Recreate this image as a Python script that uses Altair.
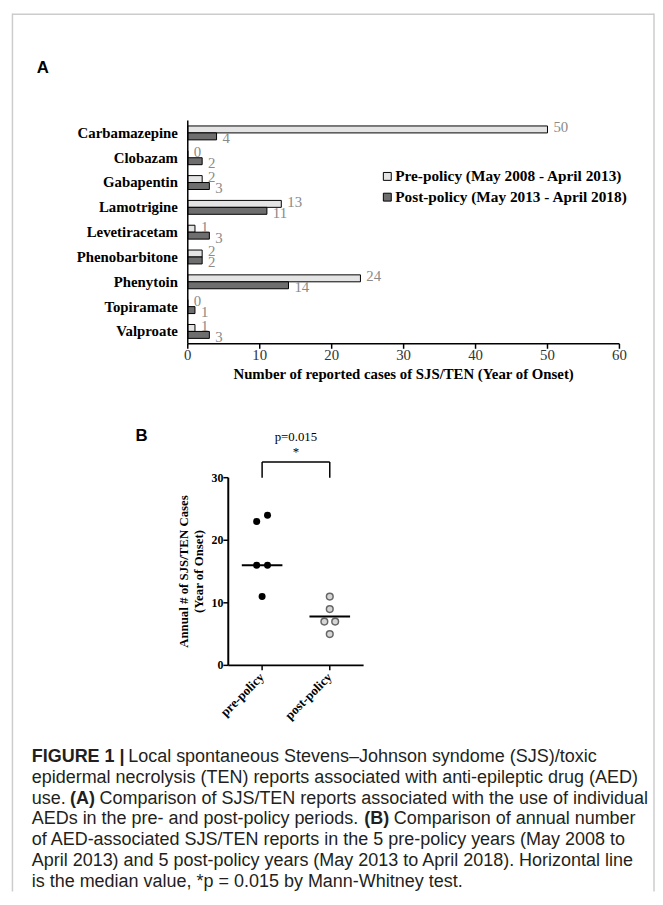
import altair as alt
import pandas as pd

# ---------------- data ----------------
drugs = ["Carbamazepine", "Clobazam", "Gabapentin", "Lamotrigine", "Levetiracetam",
         "Phenobarbitone", "Phenytoin", "Topiramate", "Valproate"]
pre_counts = [50, 0, 2, 13, 1, 2, 24, 0, 1]
post_counts = [4, 2, 3, 11, 3, 2, 14, 1, 3]
series_names = ["Pre-policy (May 2008 - April 2013)", "Post-policy (May 2013 - April 2018)"]
x_ticks_a = [0, 10, 20, 30, 40, 50, 60]
x_title_a = "Number of reported cases of SJS/TEN (Year of Onset)"

groups_b = ["pre-policy", "post-policy"]
annual_pre = [24, 23, 16, 16, 11]
annual_post = [11, 9, 7, 7, 5]
medians_b = [16, 7.8]
y_ticks_b = [0, 10, 20, 30]
y_title_b = ["Annual # of SJS/TEN Cases", "(Year of Onset)"]
bracket_b = [30, 32.5]
p_text = "p=0.015"
star_text = "*"

caption_lines = [
    [("FIGURE 1 |", True), (" Local spontaneous Stevens\u2013Johnson syndome (SJS)/toxic", False)],
    [("epidermal necrolysis (TEN) reports associated with anti-epileptic drug (AED)", False)],
    [("use. ", False), ("(A)", True), (" Comparison of SJS/TEN reports associated with the use of individual", False)],
    [("AEDs in the pre- and post-policy periods. ", False), ("(B)", True), (" Comparison of annual number", False)],
    [("of AED-associated SJS/TEN reports in the 5 pre-policy years (May 2008 to", False)],
    [("April 2013) and 5 post-policy years (May 2013 to April 2018). Horizontal line", False)],
    [("is the median value, *p = 0.015 by Mann-Whitney test.", False)],
]

# ---------------- layout (page pixels; chart = page - 8) ----------------
W, H = 655, 889
OX, OY = 8, 8
def cx(v): return v - OX
def cy(v): return v - OY

SERIF = "Liberation Serif"
SANS = "Liberation Sans"
PRE_FILL, POST_FILL = "#e4e4e4", "#6e6e6e"
FRAME_C = "#cccccc"

A_AXIS_X = 190          # page x of value 0 in panel A
A_X60 = 627             # page x of value 60
A_TOP, A_AXIS_Y = 116.4, 342.5
XA = [cx(A_AXIS_X), cx(A_X60)]
YA = [cy(A_TOP), cy(A_AXIS_Y)]

B_LEFT, B_RIGHT = 231, 368
B_Y0, B_Y30 = 668, 478
XB = [cx(B_LEFT), cx(B_RIGHT)]
YB = [cy(B_Y0), cy(B_Y30)]

CAP_X, CAP_Y0, CAP_DY, CAP_SIZE = cx(32), cy(761), 21.0, 18.2
CAP_FIT = 0.985


def _w(groups):
    d = {}
    for chars, w in groups:
        for c in chars:
            d[c] = w
    return d

REG = _w([(" !,./:;I[]ft", 278), ("ijl", 222), ("r()-", 333), ("*", 389),
          ("crskvxyzJ", 500), ("abdeghnopqu0123456789#$L_\u2013", 556), ("=+", 584),
          ("FTZ", 611), ("ABEKPSVXY", 667), ("CDHNRUw", 722), ("GOQ", 778),
          ("mM", 833), ("W", 944), ("|", 260)])
BOLD = _w([(" I", 278), ("()", 333), ("|", 280), ("ABRUCDHN", 722), ("E", 667),
           ("F", 611), ("GO", 778), ("0123456789", 556)])


def text_width(s, bold, size):
    t = BOLD if bold else REG
    return sum(t.get(c, 556) for c in s) * size / 1000.0 * CAP_FIT


cap_rows = []
for i, line in enumerate(caption_lines):
    xpos = CAP_X
    for seg, bold in line:
        lead = len(seg) - len(seg.lstrip(" "))
        xpos += text_width(" " * lead, bold, CAP_SIZE)
        s = seg.strip(" ")
        cap_rows.append({"t": s, "bold": bold, "px": xpos, "py": CAP_Y0 + i * CAP_DY})
        xpos += text_width(s, bold, CAP_SIZE)
        trail = len(seg) - len(seg.rstrip(" "))
        xpos += text_width(" " * trail, bold, CAP_SIZE)
cap_df = pd.DataFrame(cap_rows)

# ---------------- panel A ----------------
rows_a = []
for d, a, b in zip(drugs, pre_counts, post_counts):
    rows_a.append({"drug": d, "series": series_names[0], "count": a})
    rows_a.append({"drug": d, "series": series_names[1], "count": b})
df_a = pd.DataFrame(rows_a)

sx_a = alt.Scale(domain=[0, 60], range=XA, nice=False, zero=True)
sy_a = alt.Scale(domain=drugs, range=YA, paddingInner=0.44, paddingOuter=0.22)
syo_a = alt.Scale(domain=series_names)
sfill = alt.Scale(domain=series_names, range=[PRE_FILL, POST_FILL])

bars = alt.Chart(df_a).mark_bar(stroke="black", strokeWidth=1).encode(
    x=alt.X("count:Q", scale=sx_a, axis=None),
    y=alt.Y("drug:N", sort=drugs, scale=sy_a, axis=None),
    yOffset=alt.YOffset("series:N", sort=series_names, scale=syo_a),
    fill=alt.Fill("series:N", scale=sfill, legend=None),
)


def value_labels(idx, dy):
    return alt.Chart(df_a).transform_filter(
        alt.datum.series == series_names[idx]
    ).mark_text(align="left", baseline="middle", dx=6, dy=dy, font=SERIF,
                fontSize=15, color="#8a8a8a").encode(
        x=alt.X("count:Q", scale=sx_a, axis=None),
        y=alt.Y("drug:N", sort=drugs, scale=sy_a, axis=None),
        yOffset=alt.YOffset("series:N", sort=series_names, scale=syo_a),
        text="count:Q",
    )

ends_a = pd.DataFrame({"a": [x_ticks_a[0]], "b": [x_ticks_a[-1]]})
ticks_a = pd.DataFrame({"v": x_ticks_a})
drug_df = pd.DataFrame({"drug": drugs})

a_ydomain = alt.Chart(ends_a).mark_rule(color="black", strokeWidth=1.5).encode(
    x=alt.X("a:Q", scale=sx_a, axis=None),
    y=alt.value(cy(A_TOP)), y2=alt.value(cy(A_AXIS_Y)))
a_xdomain = alt.Chart(ends_a).mark_rule(color="black", strokeWidth=1.5).encode(
    x=alt.X("a:Q", scale=sx_a, axis=None), x2="b:Q",
    y=alt.value(cy(A_AXIS_Y)))
a_ticks = alt.Chart(ticks_a).mark_rule(color="black", strokeWidth=1.5).encode(
    x=alt.X("v:Q", scale=sx_a, axis=None),
    y=alt.value(cy(A_AXIS_Y)), y2=alt.value(cy(A_AXIS_Y + 5)))
a_ticklabels = alt.Chart(ticks_a).mark_text(font=SERIF, fontSize=15, color="#333333",
                                            baseline="middle").encode(
    x=alt.X("v:Q", scale=sx_a, axis=None),
    y=alt.value(cy(A_AXIS_Y + 11.5)), text="v:Q")
a_catlabels = alt.Chart(drug_df).mark_text(font=SERIF, fontSize=15, fontWeight="bold",
                                           color="black", align="right",
                                           baseline="middle").encode(
    y=alt.Y("drug:N", sort=drugs, scale=sy_a, axis=None),
    x=alt.value(cx(A_AXIS_X - 10)), text="drug:N")
a_title = alt.Chart(pd.DataFrame({"t": [x_title_a]})).mark_text(
    font=SERIF, fontSize=15, fontWeight="bold", color="black", baseline="middle").encode(
    x=alt.value((XA[0] + XA[1]) / 2), y=alt.value(cy(A_AXIS_Y + 30.5)), text="t:N")

panel_a = alt.layer(bars, value_labels(0, -2), value_labels(1, 2), a_ydomain, a_xdomain,
                    a_ticks, a_ticklabels, a_catlabels, a_title)

# legend (manual)
df_leg = pd.DataFrame({"series": series_names})
sy_leg = alt.Scale(domain=series_names, range=[cy(173), cy(194)], padding=0)
leg_sym = alt.Chart(df_leg).mark_square(size=64, stroke="black", strokeWidth=1,
                                        opacity=1, filled=True).encode(
    x=alt.value(cx(392)),
    y=alt.Y("series:N", scale=sy_leg, axis=None),
    fill=alt.Fill("series:N", scale=sfill, legend=None),
)
leg_txt = alt.Chart(df_leg).mark_text(align="left", baseline="middle", font=SERIF,
                                      fontSize=15.5, fontWeight="bold", color="black").encode(
    x=alt.value(cx(400)),
    y=alt.Y("series:N", scale=sy_leg, axis=None),
    text="series:N",
)
legend_a = alt.layer(leg_sym, leg_txt)

# ---------------- panel B ----------------
def dodge(values, base, step=0.08):
    order = sorted(range(len(values)), key=lambda k: values[k])
    out = [base] * len(values)
    clusters, cur = [], [order[0]]
    for k in order[1:]:
        if values[k] - values[cur[-1]] <= 1:
            cur.append(k)
        else:
            clusters.append(cur)
            cur = [k]
    clusters.append(cur)
    for c in clusters:
        n = len(c)
        for j, k in enumerate(c):
            out[k] = base + (j - (n - 1) / 2.0) * 2 * step
    return out

rows_b = []
for gi, vals in enumerate([annual_pre, annual_post]):
    for v, p in zip(vals, dodge(vals, gi + 1)):
        rows_b.append({"group": groups_b[gi], "value": v, "pos": p})
df_b = pd.DataFrame(rows_b)

sx_b = alt.Scale(domain=[0.5, 2.5], range=XB, nice=False, zero=False)
sy_b = alt.Scale(domain=[0, 30], range=YB, nice=False, zero=True)

pts_pre = alt.Chart(df_b).transform_filter(alt.datum.group == groups_b[0]).mark_circle(
    size=50, color="black", opacity=1).encode(
    x=alt.X("pos:Q", scale=sx_b, axis=None),
    y=alt.Y("value:Q", scale=sy_b, axis=None),
)
pts_post = alt.Chart(df_b).transform_filter(alt.datum.group == groups_b[1]).mark_point(
    shape="circle", size=46, filled=True, fill="#d6d6d6", stroke="#666666",
    strokeWidth=1.5, opacity=1).encode(
    x=alt.X("pos:Q", scale=sx_b, axis=None),
    y=alt.Y("value:Q", scale=sy_b, axis=None),
)

HALF = 0.3
df_med = pd.DataFrame({"x1": [1 - HALF, 2 - HALF], "x2": [1 + HALF, 2 + HALF], "m": medians_b})
med = alt.Chart(df_med).mark_rule(color="black", strokeWidth=2).encode(
    x=alt.X("x1:Q", scale=sx_b, axis=None), x2="x2:Q",
    y=alt.Y("m:Q", scale=sy_b, axis=None),
)

df_br = pd.DataFrame({"x1": [1, 1, 2], "x2": [2, 1, 2],
                      "y1": [bracket_b[1], bracket_b[0], bracket_b[0]],
                      "y2": [bracket_b[1], bracket_b[1], bracket_b[1]]})
bracket = alt.Chart(df_br).mark_rule(color="black", strokeWidth=1.5).encode(
    x=alt.X("x1:Q", scale=sx_b, axis=None), x2="x2:Q",
    y=alt.Y("y1:Q", scale=sy_b, axis=None), y2="y2:Q",
)
df_sig = pd.DataFrame({"x": [1.5, 1.5], "y": [36.5, 34.1], "t": [p_text, star_text]})
sig = alt.Chart(df_sig).mark_text(font=SERIF, fontSize=13, color="black",
                                  baseline="middle").encode(
    x=alt.X("x:Q", scale=sx_b, axis=None),
    y=alt.Y("y:Q", scale=sy_b, axis=None),
    text="t:N",
)

# panel B axes (drawn through the panel's scales)
b_dom = pd.DataFrame({"x0": [0.5], "x1": [2.5], "y0": [0], "y1": [30]})
b_ydomain = alt.Chart(b_dom).mark_rule(color="black", strokeWidth=2).encode(
    x=alt.X("x0:Q", scale=sx_b, axis=None),
    y=alt.Y("y0:Q", scale=sy_b, axis=None), y2="y1:Q")
b_xdomain = alt.Chart(b_dom).mark_rule(color="black", strokeWidth=2).encode(
    x=alt.X("x0:Q", scale=sx_b, axis=None), x2="x1:Q",
    y=alt.Y("y0:Q", scale=sy_b, axis=None))
ticks_b = pd.DataFrame({"v": y_ticks_b})
b_yticks = alt.Chart(ticks_b).mark_rule(color="black", strokeWidth=1.5).encode(
    x=alt.value(cx(B_LEFT - 5)), x2=alt.value(cx(B_LEFT)),
    y=alt.Y("v:Q", scale=sy_b, axis=None))
b_ylabels = alt.Chart(ticks_b).mark_text(font=SERIF, fontSize=12, fontWeight="bold",
                                         color="black", align="right",
                                         baseline="middle").encode(
    x=alt.value(cx(B_LEFT - 5)), y=alt.Y("v:Q", scale=sy_b, axis=None), text="v:Q")
grp_df = pd.DataFrame({"g": groups_b, "pos": [1, 2]})
b_xticks = alt.Chart(grp_df).mark_rule(color="black", strokeWidth=1.5).encode(
    x=alt.X("pos:Q", scale=sx_b, axis=None),
    y=alt.value(cy(B_Y0)), y2=alt.value(cy(B_Y0 + 5)))
b_xlabels = alt.Chart(grp_df).mark_text(font=SERIF, fontSize=13, fontWeight="bold",
                                        color="black", align="right", baseline="middle",
                                        angle=315).encode(
    x=alt.X("pos:Q", scale=sx_b, axis=None),
    y=alt.value(cy(B_Y0 + 10)), text="g:N")
title_b = pd.DataFrame({"t": y_title_b, "px": [cx(186), cx(201)]})
b_ytitle = alt.Chart(title_b).mark_text(font=SERIF, fontSize=13, fontWeight="bold",
                                        color="black", angle=270,
                                        baseline="middle").encode(
    x=alt.X("px:Q", scale=None, axis=None),
    y=alt.value((YB[0] + YB[1]) / 2), text="t:N")

panel_b = alt.layer(pts_pre, pts_post, med, bracket, sig, b_ydomain, b_xdomain, b_yticks,
                    b_ylabels, b_xticks, b_xlabels, b_ytitle)

# ---------------- frame, panel letters, caption ----------------
one = pd.DataFrame({"k": [0]})
frame_l = alt.Chart(one).mark_rule(color=FRAME_C, strokeWidth=1.5).encode(
    x=alt.value(4.5), y=alt.value(0), y2=alt.value(H))
frame_t = alt.Chart(one).mark_rule(color=FRAME_C, strokeWidth=1.5).encode(
    x=alt.value(4.5), x2=alt.value(W - 1), y=alt.value(0.75))
frame_r = alt.Chart(one).mark_rule(color=FRAME_C, strokeWidth=1.5).encode(
    x=alt.value(W - 1), y=alt.value(0), y2=alt.value(H))

letter_a = alt.Chart(one).mark_text(text="A", align="left", baseline="middle", font=SANS,
                                    fontSize=17, fontWeight="bold", color="black").encode(
    x=alt.value(cx(37)), y=alt.value(cy(63)))
letter_b = alt.Chart(one).mark_text(text="B", align="left", baseline="middle", font=SANS,
                                    fontSize=17, fontWeight="bold", color="black").encode(
    x=alt.value(cx(137)), y=alt.value(cy(436)))


def cap_layer(bold):
    return alt.Chart(cap_df).transform_filter(
        alt.datum.bold == bold
    ).mark_text(align="left", baseline="middle", font=SANS, fontSize=CAP_SIZE,
                fontWeight="bold" if bold else "normal", color="#231f20").encode(
        x=alt.X("px:Q", scale=None, axis=None),
        y=alt.Y("py:Q", scale=None, axis=None),
        text="t:N",
    )

chart = alt.layer(
    frame_l, frame_t, frame_r, letter_a, letter_b,
    panel_a, legend_a, panel_b, cap_layer(False), cap_layer(True)
).resolve_scale(
    x="independent", y="independent", fill="independent", yOffset="independent"
).properties(
    width=W, height=H, padding=0, autosize=alt.AutoSizeParams(type="none"),
    background="white"
).configure_view(stroke=None)

chart.save("out.html", embed_options={"renderer": "svg", "actions": False})
